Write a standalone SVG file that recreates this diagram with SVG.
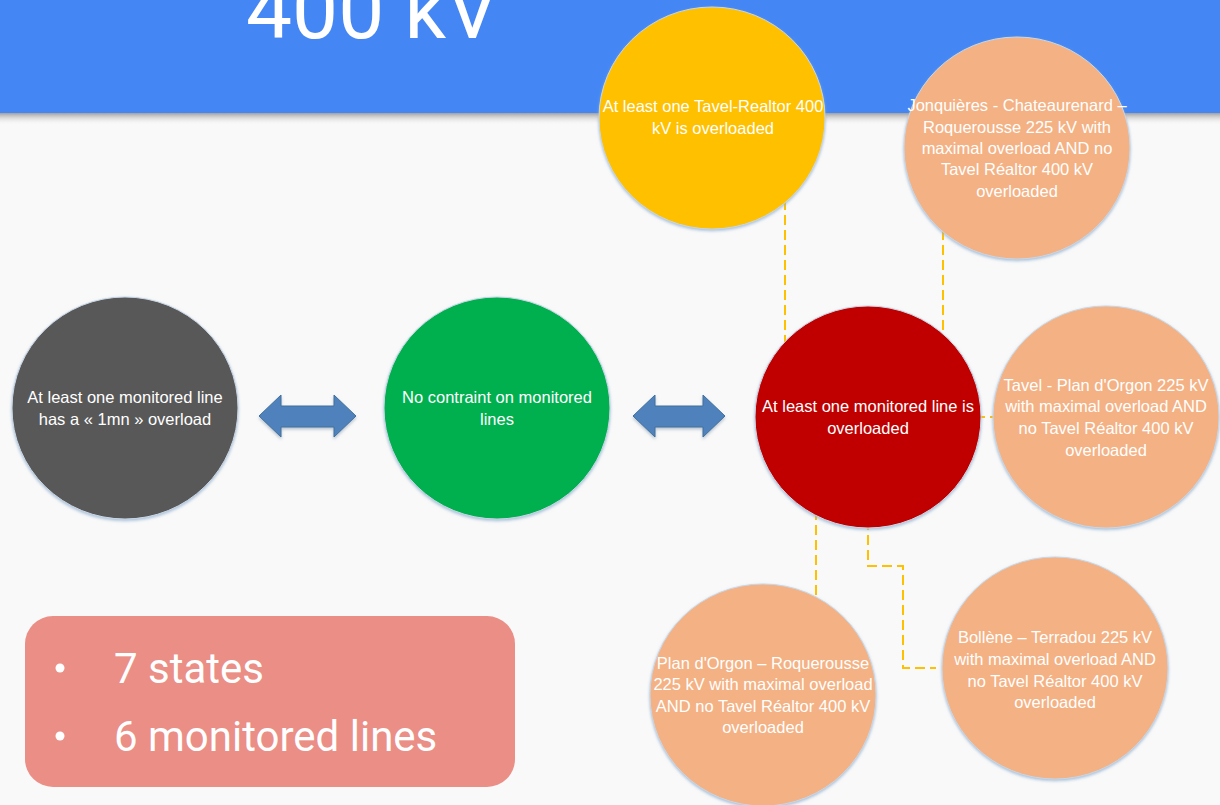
<svg xmlns="http://www.w3.org/2000/svg" width="1220" height="805" viewBox="0 0 1220 805">
<defs>
<linearGradient id="hdrShadow" x1="0" y1="0" x2="0" y2="1">
<stop offset="0" stop-color="#8a8a8a" stop-opacity="0.8"/>
<stop offset="1" stop-color="#f9f9f9" stop-opacity="0"/>
</linearGradient>
<filter id="glow" x="-10%" y="-10%" width="120%" height="120%">
<feDropShadow dx="0" dy="1.5" stdDeviation="1.6" flood-color="#8eaed0" flood-opacity="0.8"/>
</filter>
<filter id="ashadow" x="-10%" y="-20%" width="120%" height="150%">
<feDropShadow dx="0" dy="2" stdDeviation="1.5" flood-color="#7a8fa8" flood-opacity="0.5"/>
</filter>
</defs>
<style>
.bg{fill:#f9f9f9}
.hdr{fill:#4487f4}
.title{font-family:Roboto,"Liberation Sans",sans-serif;font-size:82px;fill:#ffffff}
.node{stroke:#c9d6e4;stroke-width:1;filter:url(#glow)}
.gray{fill:#595959}
.green{fill:#00b050}
.red{fill:#c00000}
.yellow{fill:#ffc000}
.peach{fill:#f4b183}
.lbl{font-family:"Liberation Sans",Arial,sans-serif;font-size:16.5px;fill:#ffffff;text-anchor:middle}
.conn{fill:none;stroke:#ffc000;stroke-width:2;stroke-dasharray:10 5}
.arrow{fill:#4f81bd;stroke:#41719c;stroke-width:1;filter:url(#ashadow)}
.box{fill:#ea8e86}
.btxt{font-family:Roboto,"Liberation Sans",sans-serif;font-size:42px;fill:#ffffff}
</style>
<rect class="bg" x="0" y="0" width="1220" height="805"/>
<g id="header">
<rect x="0" y="113" width="1220" height="12" fill="url(#hdrShadow)"/>
<rect class="hdr" x="0" y="0" width="1220" height="113"/>
<text class="title" x="246" y="38">400 kV</text>
</g>
<g id="connectors">
<line class="conn" x1="785" y1="200" x2="785" y2="345"/>
<line class="conn" x1="943" y1="230" x2="943" y2="340"/>
<line class="conn" x1="975" y1="417" x2="998" y2="417" stroke-dasharray="none"/>
<line class="conn" x1="816" y1="510" x2="816" y2="600"/>
<polyline class="conn" points="868,520 868,566 903,566 903,668 936,668"/>
</g>
<g id="arrows">
<polygon class="arrow" points="259,416 281,395 281,406 334,406 334,395 356,416 334,437 334,427 281,427 281,437"/>
<polygon class="arrow" points="633,416 655,395 655,406 703,406 703,395 725,416 703,437 703,427 655,427 655,437"/>
</g>
<g id="node-gray">
<ellipse class="node gray" cx="125" cy="408" rx="113" ry="111"/>
<text class="lbl" x="125" y="403">At least one monitored line</text>
<text class="lbl" x="125" y="425">has a « 1mn » overload</text>
</g>
<g id="node-green">
<ellipse class="node green" cx="497" cy="408" rx="113" ry="111"/>
<text class="lbl" x="497" y="403">No contraint on monitored</text>
<text class="lbl" x="497" y="425">lines</text>
</g>
<g id="node-red">
<ellipse class="node red" cx="868" cy="417" rx="113" ry="111"/>
<text class="lbl" x="868" y="412">At least one monitored line is</text>
<text class="lbl" x="868" y="434">overloaded</text>
</g>
<g id="node-yellow">
<ellipse class="node yellow" cx="712" cy="118" rx="113" ry="111"/>
<text class="lbl" x="713" y="112">At least one Tavel-Realtor 400</text>
<text class="lbl" x="713" y="134">kV is overloaded</text>
</g>
<g id="node-jonquieres">
<ellipse class="node peach" cx="1017" cy="148" rx="113" ry="111"/>
<text class="lbl" x="1017" y="111">Jonquières - Chateaurenard –</text>
<text class="lbl" x="1017" y="133">Roquerousse 225 kV with</text>
<text class="lbl" x="1017" y="154">maximal overload AND no</text>
<text class="lbl" x="1017" y="175">Tavel Réaltor 400 kV</text>
<text class="lbl" x="1017" y="197">overloaded</text>
</g>
<g id="node-tavel">
<ellipse class="node peach" cx="1106" cy="417" rx="113" ry="111"/>
<text class="lbl" x="1106" y="391">Tavel - Plan d'Orgon 225 kV</text>
<text class="lbl" x="1106" y="412">with maximal overload AND</text>
<text class="lbl" x="1106" y="434">no Tavel Réaltor 400 kV</text>
<text class="lbl" x="1106" y="456">overloaded</text>
</g>
<g id="node-plan">
<ellipse class="node peach" cx="763" cy="695" rx="113" ry="111"/>
<text class="lbl" x="763" y="669">Plan d'Orgon – Roquerousse</text>
<text class="lbl" x="763" y="690">225 kV with maximal overload</text>
<text class="lbl" x="763" y="712">AND no Tavel Réaltor 400 kV</text>
<text class="lbl" x="763" y="733">overloaded</text>
</g>
<g id="node-bollene">
<ellipse class="node peach" cx="1055" cy="668" rx="113" ry="111"/>
<text class="lbl" x="1055" y="643">Bollène – Terradou 225 kV</text>
<text class="lbl" x="1055" y="665">with maximal overload AND</text>
<text class="lbl" x="1055" y="687">no Tavel Réaltor 400 kV</text>
<text class="lbl" x="1055" y="708">overloaded</text>
</g>
<g id="summary">
<rect class="box" x="25" y="616" width="490" height="171" rx="28" ry="28"/>
<circle cx="60" cy="668" r="4.5" fill="#ffffff"/>
<circle cx="60" cy="736" r="4.5" fill="#ffffff"/>
<text class="btxt" x="114" y="683">7 states</text>
<text class="btxt" x="114" y="751">6 monitored lines</text>
</g>
</svg>
